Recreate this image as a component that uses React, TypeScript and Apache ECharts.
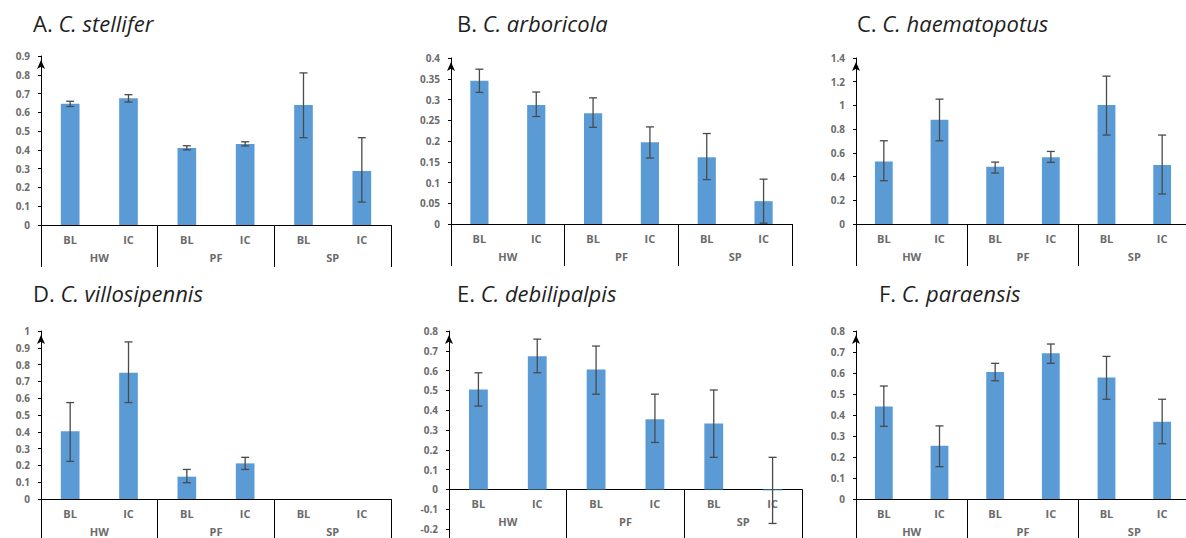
import React, { useEffect, useRef } from "react";
import * as echarts from "echarts";

// ---------- data ----------
const subCategories = ["BL", "IC", "BL", "IC", "BL", "IC"];
const groupCategories = ["HW", "PF", "SP"];

const titleLetters = ["A. ", "B. ", "C. ", "D. ", "E. ", "F. "];
const speciesNames = ["C. stellifer", "C. arboricola", "C. haematopotus", "C. villosipennis", "C. debilipalpis", "C. paraensis"];

const meanA = [0.646, 0.675, 0.41, 0.431, 0.639, 0.288];
const lowA = [0.631, 0.655, 0.4, 0.421, 0.465, 0.122];
const highA = [0.659, 0.694, 0.422, 0.443, 0.81, 0.465];

const meanB = [0.345, 0.287, 0.267, 0.197, 0.161, 0.055];
const lowB = [0.317, 0.259, 0.233, 0.159, 0.107, 0.002];
const highB = [0.373, 0.318, 0.304, 0.234, 0.218, 0.108];

const meanC = [0.528, 0.879, 0.483, 0.562, 1.003, 0.497];
const lowC = [0.365, 0.702, 0.43, 0.52, 0.75, 0.253];
const highC = [0.702, 1.053, 0.522, 0.612, 1.247, 0.75];

const meanD = [0.404, 0.752, 0.133, 0.212, null, null];
const lowD = [0.224, 0.574, 0.097, 0.176, null, null];
const highD = [0.574, 0.935, 0.176, 0.248, null, null];

const meanE = [0.505, 0.673, 0.606, 0.354, 0.333, -0.005];
const lowE = [0.421, 0.589, 0.481, 0.237, 0.162, -0.172];
const highE = [0.589, 0.759, 0.724, 0.481, 0.502, 0.162];

const meanF = [0.44, 0.254, 0.605, 0.694, 0.579, 0.368];
const lowF = [0.346, 0.154, 0.563, 0.646, 0.475, 0.263];
const highF = [0.538, 0.348, 0.646, 0.738, 0.679, 0.475];

const yMin = [0, 0, 0, 0, -0.2, 0];
const yMax = [0.9, 0.4, 1.4, 1, 0.8, 0.8];
const yStep = [0.1, 0.05, 0.2, 0.1, 0.1, 0.1];

const means = [meanA, meanB, meanC, meanD, meanE, meanF];
const lows = [lowA, lowB, lowC, lowD, lowE, lowF];
const highs = [highA, highB, highC, highD, highE, highF];

// ---------- layout ----------
const grids = [
  { left: 41, top: 56, width: 350, height: 169 },
  { left: 451, top: 58, width: 341, height: 166 },
  { left: 856, top: 58, width: 334, height: 166 },
  { left: 41, top: 331, width: 350, height: 168 },
  { left: 449, top: 331, width: 353, height: 198 },
  { left: 856, top: 331, width: 334, height: 168 },
];
const titlePos = [
  { left: 33, top: 10 },
  { left: 457, top: 10 },
  { left: 857, top: 10 },
  { left: 33, top: 280 },
  { left: 457, top: 280 },
  { left: 879, top: 280 },
];
const sepLength = [42, 42, 42, 45, 50, 45];

const FONT = "'Open Sans', 'DejaVu Sans', sans-serif";
const BAR = "#5B9BD5";
const LABEL = "#6b6b6b";

function buildOption() {
  const grid: any[] = [];
  const xAxis: any[] = [];
  const yAxis: any[] = [];
  const series: any[] = [];
  const title: any[] = [];

  for (let i = 0; i < 6; i++) {
    grid.push({ ...grids[i], containLabel: false, outerBoundsMode: "none" });
    // lift the category axes to the zero line (needed where the value axis goes below zero)
    const zeroLift = -(grids[i].height * (0 - yMin[i])) / (yMax[i] - yMin[i]);
    title.push({
      ...titlePos[i],
      padding: 0,
      text: `{n|${titleLetters[i]}}{i|${speciesNames[i]}}`,
      textStyle: {
        fontWeight: "normal",
        rich: {
          n: { fontSize: 22, fontFamily: FONT, fontWeight: "normal", color: "#1f1f1f", lineHeight: 26 },
          i: { fontSize: 22, fontFamily: FONT, fontWeight: "normal", fontStyle: "italic", color: "#1f1f1f", lineHeight: 26 },
        },
      },
    });
    xAxis.push({
      type: "category",
      gridIndex: i,
      data: subCategories,
      position: "bottom",
      offset: zeroLift,
      axisLine: { show: true, onZero: false, lineStyle: { color: "#000", width: 1 } },
      axisTick: { show: false },
      axisLabel: { interval: 0, margin: 9, color: LABEL, fontFamily: FONT, fontSize: 11, fontWeight: "bold" },
      splitLine: { show: false },
    });
    xAxis.push({
      type: "category",
      gridIndex: i,
      data: groupCategories,
      position: "bottom",
      offset: zeroLift,
      axisLine: { show: false, onZero: false },
      axisTick: { show: true, interval: 0, length: sepLength[i], lineStyle: { color: "#000", width: 1 } },
      axisLabel: { interval: 0, margin: 27, color: LABEL, fontFamily: FONT, fontSize: 11, fontWeight: "bold" },
      splitLine: { show: false },
    });
    yAxis.push({
      type: "value",
      gridIndex: i,
      min: yMin[i],
      max: yMax[i],
      interval: yStep[i],
      axisLine: {
        show: true,
        lineStyle: { color: "#000", width: 1 },
        symbol: ["none", "arrow"],
        symbolSize: [6, 9],
        symbolOffset: [0, -4],
      },
      axisTick: { show: true, length: 3, lineStyle: { color: "#000" } },
      axisLabel: {
        margin: 11,
        color: LABEL,
        fontFamily: FONT,
        fontSize: 10,
        fontWeight: "bold",
        formatter: (v: number) => String(+v.toFixed(3)),
      },
      splitLine: { show: false },
    });

    series.push({
      type: "bar",
      xAxisIndex: 2 * i,
      yAxisIndex: i,
      data: means[i].map((v) => (v == null ? "-" : v)),
      barWidth: "32%",
      itemStyle: { color: BAR },
      z: 2,
    });

    const errData: any[] = [];
    for (let k = 0; k < 6; k++) {
      if (lows[i][k] != null && highs[i][k] != null) errData.push([k, lows[i][k], highs[i][k]]);
    }
    series.push({
      type: "custom",
      xAxisIndex: 2 * i,
      yAxisIndex: i,
      data: errData,
      encode: { x: 0, y: [1, 2] },
      z: 5,
      renderItem: (params: any, api: any) => {
        const x = api.value(0);
        const lo = api.coord([x, api.value(1)]);
        const hi = api.coord([x, api.value(2)]);
        const hw = 4;
        const st = { stroke: "#4a4a4a", lineWidth: 1.3 };
        return {
          type: "group",
          children: [
            { type: "line", shape: { x1: hi[0], y1: hi[1], x2: lo[0], y2: lo[1] }, style: st },
            { type: "line", shape: { x1: hi[0] - hw, y1: hi[1], x2: hi[0] + hw, y2: hi[1] }, style: st },
            { type: "line", shape: { x1: lo[0] - hw, y1: lo[1], x2: lo[0] + hw, y2: lo[1] }, style: st },
          ],
        };
      },
    });
  }

  return {
    animation: false,
    backgroundColor: "#ffffff",
    title,
    grid,
    xAxis,
    yAxis,
    series,
  };
}

export default function App() {
  const ref = useRef<HTMLDivElement>(null);
  useEffect(() => {
    if (!ref.current) return;
    const chart = echarts.init(ref.current, undefined, { renderer: "svg" });
    chart.setOption(buildOption() as any);
    return () => chart.dispose();
  }, []);
  return (
    <div
      ref={ref}
      style={{ position: "absolute", left: 0, top: 0, width: 1186, height: 538, background: "#fff" }}
    />
  );
}
